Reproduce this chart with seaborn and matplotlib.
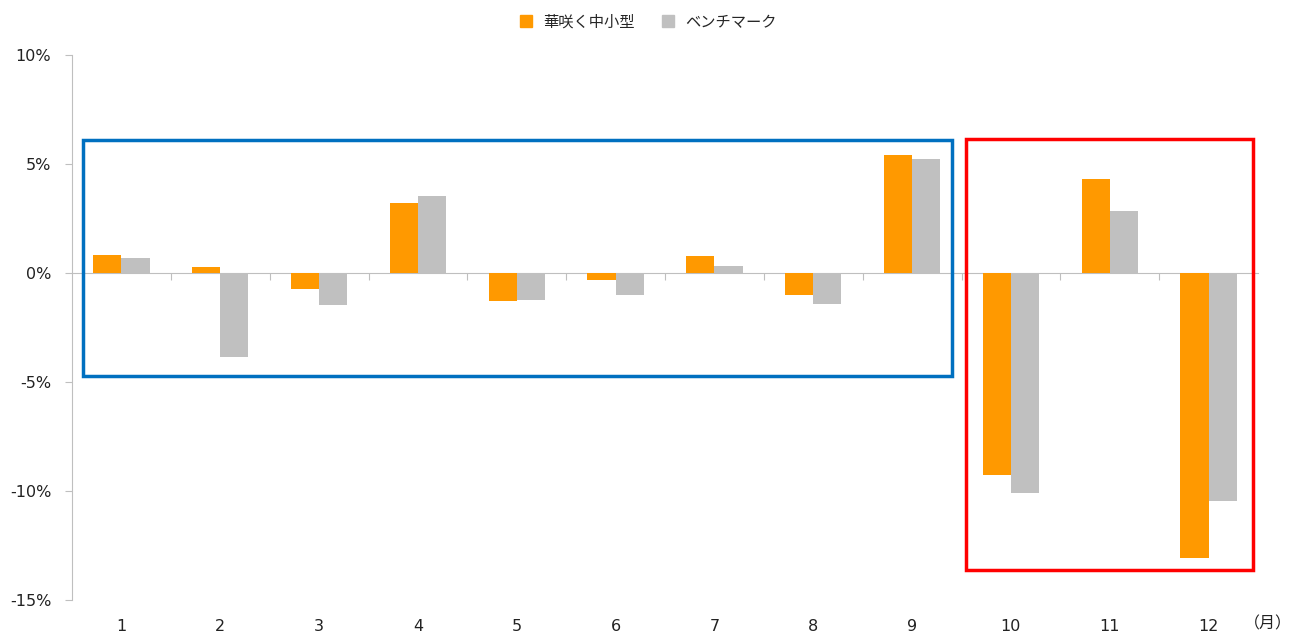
import numpy as np
import pandas as pd
import matplotlib
matplotlib.use("Agg")
import matplotlib.pyplot as plt
import seaborn as sns
from matplotlib.patches import Rectangle
from matplotlib.ticker import FuncFormatter, FixedLocator, NullFormatter

months = ["1", "2", "3", "4", "5", "6", "7", "8", "9", "10", "11", "12"]
fund = [0.83, 0.28, -0.73, 3.21, -1.28, -0.32, 0.78, -1.0, 5.41, -9.27, 4.31, -13.07]
bench = [0.69, -3.85, -1.47, 3.53, -1.24, -1.0, 0.32, -1.42, 5.23, -10.09, 2.84, -10.46]
series_names = ["華咲く中小型", "ベンチマーク"]
colors = ["#FF9900", "#C0C0C0"]

# highlight boxes: (left, right in month index, y top, y bottom)
blue_box = (-0.39, 8.40, 6.1, -4.72)
red_box = (8.55, 11.45, 6.15, -13.6)

df = pd.DataFrame({
    "month": months * 2,
    "value": fund + bench,
    "series": [series_names[0]] * 12 + [series_names[1]] * 12,
})

sns.set_style("white")
plt.rcParams["font.family"] = ["DejaVu Sans", "Noto Sans CJK JP"]
plt.rcParams["axes.unicode_minus"] = False

fig = plt.figure(figsize=(13, 6.37), dpi=100)
ax = fig.add_axes([0.0554, 0.058, 0.9123, 0.8557])

sns.barplot(data=df, x="month", y="value", hue="series", palette=colors,
            width=0.57, saturation=1, linewidth=0, ax=ax, legend=False)

ax.set_xlim(-0.5, 11.5)
ax.set_ylim(-15, 10)
ax.set_yticks([-15, -10, -5, 0, 5, 10])
ax.yaxis.set_major_formatter(FuncFormatter(lambda v, p: f"{v:.0f}%"))
ax.set_xlabel("")
ax.set_ylabel("")

for s in ["top", "right", "bottom"]:
    ax.spines[s].set_visible(False)
ax.spines["left"].set_color("#BFBFBF")
ax.tick_params(axis="y", length=5, color="#BFBFBF", labelsize=11.5,
               labelcolor="#222222", pad=10, left=True)
ax.tick_params(axis="x", length=0, labelsize=11.5, labelcolor="#222222", pad=14)

# zero line with boundary ticks pointing down
zero_frac = (0 - (-15)) / 25
sec = ax.secondary_xaxis(zero_frac)
for s in sec.spines.values():
    s.set_color("#BFBFBF")
sec.xaxis.set_major_locator(FixedLocator(np.arange(0.5, 11, 1)))
sec.xaxis.set_major_formatter(NullFormatter())
sec.tick_params(axis="x", direction="in", length=5, color="#BFBFBF",
                labelbottom=False, labeltop=False)

ax.text(11.6, -0.028, "（月）", transform=ax.get_xaxis_transform(),
        ha="center", va="top", fontsize=11.5, color="#222222",
        family=["Noto Sans CJK JP"])

for (x0, x1, y0, y1), c in [(blue_box, "#0070C0"), (red_box, "#FF0000")]:
    ax.add_patch(Rectangle((x0, y1), x1 - x0, y0 - y1, fill=False,
                           edgecolor=c, linewidth=2.5, clip_on=False, zorder=5))

handles = [plt.Line2D([], [], marker="s", linestyle="", markersize=8,
                      color=c) for c in colors]
fig.legend(handles, series_names, loc="upper center", bbox_to_anchor=(0.495, 1.0),
           ncol=2, frameon=False, handletextpad=0.1, columnspacing=1.2,
           prop={"family": ["Noto Sans CJK JP"], "size": 11})

fig.savefig("out.png", dpi=100)
